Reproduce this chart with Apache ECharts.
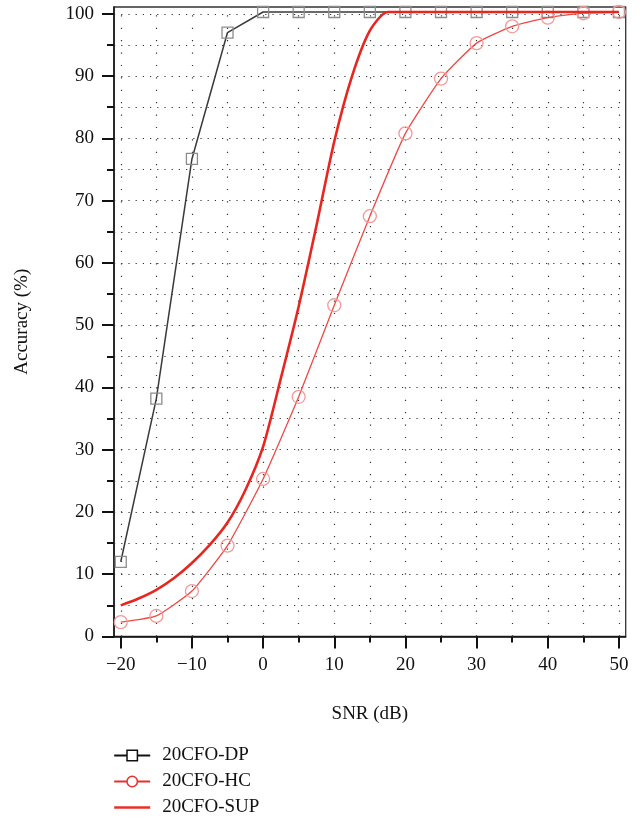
<!DOCTYPE html>
<html>
<head>
<meta charset="utf-8">
<script src="https://cdn.jsdelivr.net/npm/echarts@6/dist/echarts.min.js"></script>
<style>html,body{margin:0;padding:0;background:#fff}#c{width:642px;height:820px}</style>
</head>
<body>
<div id="c"></div>
<script>
// ---- data ----
var snrDP = [-20, -15, -10, -5, 0, 5, 10, 15, 20, 25, 30, 35, 40, 45, 50];
var accDP = [12, 38.2, 76.7, 97, 100.3, 100.3, 100.3, 100.3, 100.3, 100.3, 100.3, 100.3, 100.3, 100.3, 100.3];
var snrHC = [-20, -15, -10, -5, 0, 5, 10, 15, 20, 25, 30, 35, 40, 45, 50];
var accHC = [2.3, 3.3, 7.3, 14.6, 25.3, 38.5, 53.2, 67.5, 80.8, 89.6, 95.3, 98, 99.4, 100.1, 100.3];
var snrSUP = [-20, -17.5, -15, -12.5, -10, -7.5, -5, -2.5, 0, 2.5, 5, 7.5, 10, 12.5, 15, 17.5, 20, 25, 30, 35, 40, 45, 50];
var accSUP = [5.0, 6.1, 7.5, 9.4, 11.8, 14.7, 18.3, 23.5, 30.5, 41.5, 53, 66, 79.5, 90, 97.3, 100.3, 100.3, 100.3, 100.3, 100.3, 100.3, 100.3, 100.3];
var xMajor = [-20, -10, 0, 10, 20, 30, 40, 50];
var xMinor = [-15, -5, 5, 15, 25, 35, 45];
var xGrid = [-20, -15, -10, -5, 0, 5, 10, 15, 20, 25, 30, 35, 40, 45, 50];
var yMajor = [0, 10, 20, 30, 40, 50, 60, 70, 80, 90, 100];
var yMinor = [5, 15, 25, 35, 45, 55, 65, 75, 85, 95];
var yGrid = [5, 10, 15, 20, 25, 30, 35, 40, 45, 50, 55, 60, 65, 70, 75, 80, 85, 90, 95, 100];
var seriesNames = ['20CFO-DP', '20CFO-HC', '20CFO-SUP'];

function zip(a, b) { return a.map(function (v, i) { return [v, b[i]]; }); }

var FONT = 'Liberation Serif';
var FS = 19;
var X_MIN = -20.95, X_MAX = 50.95, Y_MIN = 0, Y_MAX = 101.1;
var PLOT_H = 629.5, PLOT_W = 511.7;

function xAxisBase(extra) {
  return Object.assign({
    type: 'value', min: X_MIN, max: X_MAX, position: 'bottom',
    axisLine: { show: false, onZero: false }, splitLine: { show: false },
    axisLabel: { show: false }, axisTick: { show: false }
  }, extra);
}
function yAxisBase(extra) {
  return Object.assign({
    type: 'value', min: Y_MIN, max: Y_MAX, position: 'left',
    axisLine: { show: false, onZero: false }, splitLine: { show: false },
    axisLabel: { show: false }, axisTick: { show: false }
  }, extra);
}

var chart = echarts.init(document.getElementById('c'), null, { renderer: 'canvas' });
chart.setOption({
  animation: false,
  backgroundColor: '#fff',
  textStyle: { fontFamily: FONT },
  grid: { left: 114, right: 16.3, top: 7, bottom: 183.5, show: true, borderColor: '#333', borderWidth: 1.3, backgroundColor: 'transparent' },
  xAxis: [
    xAxisBase({
      name: 'SNR (dB)', nameLocation: 'middle', nameGap: 68,
      nameTextStyle: { fontFamily: FONT, fontSize: FS, color: '#111' },
      axisLine: { show: true, onZero: false, lineStyle: { color: '#111', width: 1.5 } },
      axisTick: { show: true, customValues: xMajor, length: 12, inside: false, lineStyle: { color: '#111', width: 2 } },
      axisLabel: { show: true, customValues: xMajor, margin: 19, fontFamily: FONT, fontSize: FS, color: '#111',
        formatter: function (v) { return String(v).replace('-', '\u2212'); } }
    }),
    xAxisBase({
      axisTick: { show: true, customValues: xMinor, length: 6, inside: false, lineStyle: { color: '#111', width: 2 } }
    }),
    xAxisBase({
      axisTick: { show: true, customValues: xGrid, length: PLOT_H, inside: true, lineStyle: { color: '#333', width: 1.2, type: [1.2, 11.2] } }
    })
  ],
  yAxis: [
    yAxisBase({
      name: 'Accuracy (%)', nameLocation: 'middle', nameGap: 82, nameRotate: 90,
      nameTextStyle: { fontFamily: FONT, fontSize: FS, color: '#111' },
      axisLine: { show: true, onZero: false, lineStyle: { color: '#111', width: 1.5 } },
      axisTick: { show: true, customValues: yMajor, length: 12, inside: false, lineStyle: { color: '#111', width: 2 } },
      axisLabel: { show: true, customValues: yMajor, margin: 20, fontFamily: FONT, fontSize: FS, color: '#111' }
    }),
    yAxisBase({
      axisTick: { show: true, customValues: yMinor, length: 7, inside: false, lineStyle: { color: '#111', width: 2 } }
    }),
    yAxisBase({
      axisTick: { show: true, customValues: yGrid, length: PLOT_W, inside: true, lineStyle: { color: '#333', width: 1.2, type: [1.2, 6] } }
    })
  ],
  legend: {
    orient: 'vertical', left: 113, top: 746, padding: 0, itemWidth: 36, itemHeight: 13, itemGap: 7,
    textStyle: { fontFamily: FONT, fontSize: FS, lineHeight: 18, color: '#111', padding: [0, 0, 0, 7] },
    data: [
      { name: seriesNames[0], itemStyle: { color: '#fff', borderColor: '#111', borderWidth: 1.5 }, lineStyle: { color: '#111', width: 1.8 } },
      { name: seriesNames[1], itemStyle: { color: '#fff', borderColor: '#e8302a', borderWidth: 1.5 }, lineStyle: { color: '#e8302a', width: 2 } },
      { name: seriesNames[2], itemStyle: { color: 'rgba(0,0,0,0)', borderColor: 'rgba(0,0,0,0)', borderWidth: 0 }, lineStyle: { color: '#e8302a', width: 2.4 } }
    ]
  },
  series: [
    {
      name: seriesNames[0], type: 'line', xAxisIndex: 0, yAxisIndex: 0,
      data: zip(snrDP, accDP), clip: false,
      symbol: 'rect', symbolSize: 11,
      lineStyle: { color: '#3a3a3a', width: 1.5 },
      itemStyle: { color: 'rgba(255,255,255,0)', borderColor: '#8c8c8c', borderWidth: 1.3 },
      z: 2
    },
    {
      name: seriesNames[1], type: 'line', xAxisIndex: 0, yAxisIndex: 0,
      data: zip(snrHC, accHC), clip: false,
      symbol: 'circle', symbolSize: 13, smooth: 0.15,
      lineStyle: { color: '#ee4a44', width: 1.3 },
      itemStyle: { color: 'rgba(255,255,255,0)', borderColor: '#f39a98', borderWidth: 1.3 },
      z: 3
    },
    {
      name: seriesNames[2], type: 'line', xAxisIndex: 0, yAxisIndex: 0,
      data: zip(snrSUP, accSUP), clip: false,
      showSymbol: false, symbol: 'none', smooth: 0.25,
      lineStyle: { color: '#e8261e', width: 2.6 },
      itemStyle: { color: '#e8261e' },
      z: 4
    }
  ]
});
</script>
</body>
</html>
